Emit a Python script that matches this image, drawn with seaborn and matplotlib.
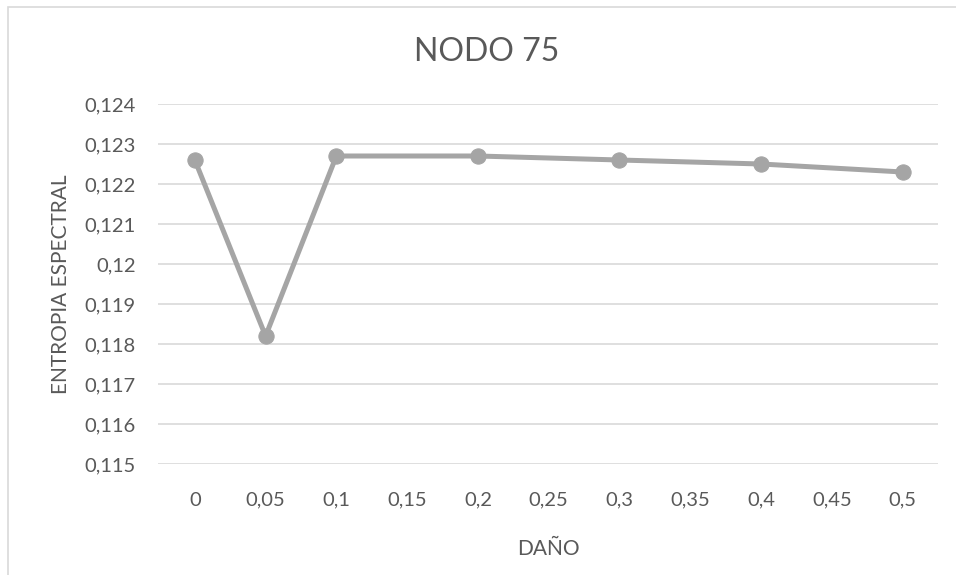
import matplotlib
matplotlib.use("Agg")
import matplotlib.pyplot as plt
import seaborn as sns
import pandas as pd
from matplotlib.patches import Rectangle

dano = [0.0, 0.05, 0.1, 0.2, 0.3, 0.4, 0.5]
entropia = [0.1226, 0.1182, 0.1227, 0.1227, 0.1226, 0.1225, 0.1223]
x_ticks = [0, 0.05, 0.1, 0.15, 0.2, 0.25, 0.3, 0.35, 0.4, 0.45, 0.5]
x_labels = ["0", "0,05", "0,1", "0,15", "0,2", "0,25", "0,3", "0,35", "0,4", "0,45", "0,5"]
y_ticks = [0.115, 0.116, 0.117, 0.118, 0.119, 0.12, 0.121, 0.122, 0.123, 0.124]
y_labels = ["0,115", "0,116", "0,117", "0,118", "0,119", "0,12", "0,121", "0,122", "0,123", "0,124"]

sns.set_theme(style="white")
plt.rcParams['font.family'] = ['Lato', 'DejaVu Sans']

df = pd.DataFrame({"DAÑO": dano, "ENTROPIA": entropia})

fig = plt.figure(figsize=(9.56, 5.75), dpi=100)
W, H = 956, 575
ax = fig.add_axes([158 / W, 1 - 464 / H, (938 - 158) / W, (464 - 104) / H])

# chart border
fig.patches.append(Rectangle((8 / W, -0.01), 1.0, 1 - 7 / H + 0.01, transform=fig.transFigure,
                             fill=False, edgecolor="#D9D9D9", linewidth=1.2))

sns.lineplot(data=df, x="DAÑO", y="ENTROPIA", ax=ax, color="#A5A5A5", linewidth=3.6,
             marker="o", markersize=11, markeredgecolor="#A5A5A5", markerfacecolor="#A5A5A5")

ax.set_xlim(-0.026, 0.525)
ax.set_ylim(0.115, 0.124)
ax.set_xticks(x_ticks)
ax.set_xticklabels(x_labels)
ax.set_yticks(y_ticks)
ax.set_yticklabels(y_labels)
ax.yaxis.grid(True, color="#D9D9D9", linewidth=1.2)
ax.xaxis.grid(False)
for s in ax.spines.values():
    s.set_visible(False)
ax.tick_params(axis="both", length=0, labelsize=14.5, colors="#595959")
ax.tick_params(axis="x", pad=20)
ax.tick_params(axis="y", pad=16)
ax.set_axisbelow(True)

ax.set_xlabel("DAÑO", fontsize=15, color="#595959", labelpad=22)
ax.set_ylabel("ENTROPIA ESPECTRAL", fontsize=15, color="#595959", labelpad=10)
fig.text(487 / W, 1 - 52 / H, "NODO 75", ha="center", va="center",
         fontsize=23, color="#595959")

fig.savefig("out.png", dpi=100)
